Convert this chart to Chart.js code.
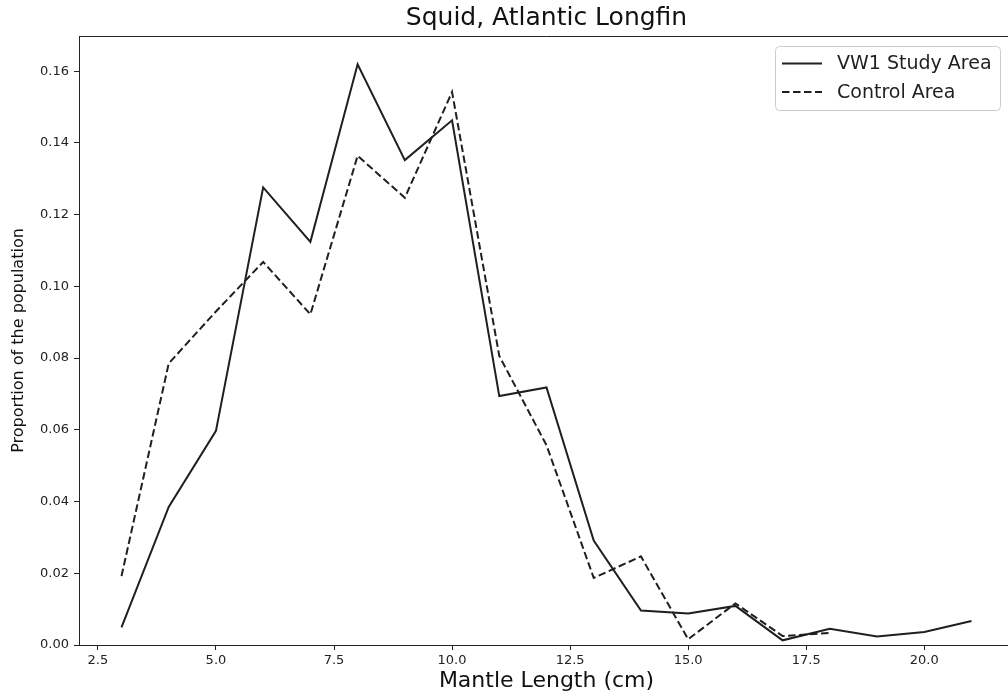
<!DOCTYPE html>
<html lang="en">
<head>
    <meta charset="UTF-8">
    <title>Squid, Atlantic Longfin</title>
    <script src="https://cdn.jsdelivr.net/npm/chart.js"></script>
    <style>
        html, body {
            margin: 0;
            padding: 0;
            overflow: hidden;
            background: #ffffff;
        }
        /* canvas is a bit wider than the window so the right spine falls off the edge */
        #chart-container {
            width: 1020px;
            height: 700px;
        }
    </style>
</head>
<body>

<div id="chart-container">
    <canvas id="lengthChart" width="1020" height="700"></canvas>
</div>

<script>
    // Mantle length bins (cm) and the share of squid in each bin
    const studyLengths = [3, 4, 5, 6, 7, 8, 9, 10, 11, 12, 13, 14, 15, 16, 17, 18, 19, 20, 21];
    const studyProp = [0.0049, 0.0385, 0.0597, 0.1276, 0.1124, 0.1619, 0.1352, 0.1463, 0.0694, 0.0718,
                       0.0291, 0.0096, 0.0088, 0.0109, 0.0013, 0.0045, 0.0024, 0.0036, 0.0067];

    const controlLengths = [3, 4, 5, 6, 7, 8, 9, 10, 11, 12, 13, 14, 15, 16, 17, 18];
    const controlProp = [0.0192, 0.0785, 0.0930, 0.1068, 0.0922, 0.1364, 0.1247, 0.1542, 0.0806, 0.0557,
                         0.0187, 0.0247, 0.0016, 0.0116, 0.0025, 0.0034];

    const xTicks = [2.5, 5.0, 7.5, 10.0, 12.5, 15.0, 17.5, 20.0];
    const yTicks = [0.00, 0.02, 0.04, 0.06, 0.08, 0.10, 0.12, 0.14, 0.16];

    const FONT = '"DejaVu Sans", Verdana, sans-serif';
    const INK = '#1f1f1f';

    // frame around the plot (top/right spines)
    const frame = {
        id: 'frame',
        afterDraw(chart) {
            const { ctx, chartArea: a } = chart;
            ctx.save();
            ctx.strokeStyle = '#222';
            ctx.lineWidth = 1;
            ctx.beginPath();
            ctx.moveTo(a.left, a.top + 0.5);
            ctx.lineTo(a.right + 0.5, a.top + 0.5);
            ctx.lineTo(a.right + 0.5, a.bottom);
            ctx.stroke();
            ctx.restore();
        }
    };

    // boxed legend inside the upper right corner
    const boxLegend = {
        id: 'boxLegend',
        afterDraw(chart) {
            const { ctx, chartArea: a } = chart;
            const x = a.right - 239, y = a.top + 10, w = 225, h = 64;
            ctx.save();
            ctx.fillStyle = 'rgba(255,255,255,0.8)';
            ctx.strokeStyle = '#cccccc';
            ctx.lineWidth = 1;
            ctx.beginPath();
            ctx.roundRect(x + 0.5, y + 0.5, w, h, 4);
            ctx.fill();
            ctx.stroke();
            chart.data.datasets.forEach((ds, i) => {
                const ly = y + 17.5 + i * 28.4;
                ctx.strokeStyle = ds.borderColor;
                ctx.lineWidth = ds.borderWidth;
                ctx.setLineDash(ds.borderDash || []);
                ctx.beginPath();
                ctx.moveTo(x + 7, ly);
                ctx.lineTo(x + 47, ly);
                ctx.stroke();
                ctx.setLineDash([]);
                ctx.fillStyle = INK;
                ctx.font = '19px ' + FONT;
                ctx.textBaseline = 'middle';
                ctx.fillText(ds.label, x + 62, ly + 1);
            });
            ctx.restore();
        }
    };

    const ctx = document.getElementById('lengthChart').getContext('2d');
    const lengthChart = new Chart(ctx, {
        type: 'line',
        data: {
            datasets: [{
                label: 'VW1 Study Area',
                data: studyLengths.map((x, i) => ({ x: x, y: studyProp[i] })),
                borderColor: INK,
                borderWidth: 2,
                fill: false,
                pointRadius: 0,
                tension: 0
            }, {
                label: 'Control Area',
                data: controlLengths.map((x, i) => ({ x: x, y: controlProp[i] })),
                borderColor: INK,
                borderWidth: 2,
                borderDash: [7.5, 3.5],
                fill: false,
                pointRadius: 0,
                tension: 0
            }]
        },
        options: {
            responsive: false,
            animation: false,
            devicePixelRatio: 1,
            layout: { padding: { left: 0, right: 6, top: 0, bottom: 0 } },
            plugins: {
                legend: { display: false },
                tooltip: { enabled: false },
                title: {
                    display: true,
                    text: 'Squid, Atlantic Longfin',
                    fullSize: false,
                    color: '#111',
                    font: { family: FONT, size: 25, weight: 'normal', lineHeight: 1.2 },
                    padding: { top: 3, bottom: 3 }
                }
            },
            scales: {
                x: {
                    type: 'linear',
                    min: 2.1,
                    max: 21.9,
                    afterBuildTicks: (scale) => { scale.ticks = xTicks.map(v => ({ value: v })); },
                    afterFit: (scale) => { scale.height = 55; },
                    border: { display: true, color: '#222', width: 1 },
                    grid: { drawOnChartArea: false, drawTicks: true, tickLength: 5, tickColor: '#222', tickWidth: 1 },
                    ticks: {
                        color: '#222',
                        padding: 3,
                        maxRotation: 0,
                        autoSkip: false,
                        font: { family: FONT, size: 13 },
                        callback: (v) => Number(v).toFixed(1)
                    },
                    title: {
                        display: true,
                        text: 'Mantle Length (cm)',
                        color: '#111',
                        font: { family: FONT, size: 22, lineHeight: 1.2 },
                        padding: { top: 0, bottom: 6 }
                    }
                },
                y: {
                    type: 'linear',
                    min: 0,
                    max: 0.1698,
                    afterBuildTicks: (scale) => { scale.ticks = yTicks.map(v => ({ value: v })); },
                    afterFit: (scale) => { scale.width = 79; },
                    border: { display: true, color: '#222', width: 1 },
                    grid: { drawOnChartArea: false, drawTicks: true, tickLength: 5, tickColor: '#222', tickWidth: 1 },
                    ticks: {
                        color: '#222',
                        padding: 5,
                        autoSkip: false,
                        font: { family: FONT, size: 13 },
                        callback: (v) => Number(v).toFixed(2)
                    },
                    title: {
                        display: true,
                        text: 'Proportion of the population',
                        color: '#111',
                        font: { family: FONT, size: 16, lineHeight: 1.2 },
                        padding: { top: 9, bottom: 0 }
                    }
                }
            }
        },
        plugins: [frame, boxLegend]
    });
</script>

</body>
</html>
